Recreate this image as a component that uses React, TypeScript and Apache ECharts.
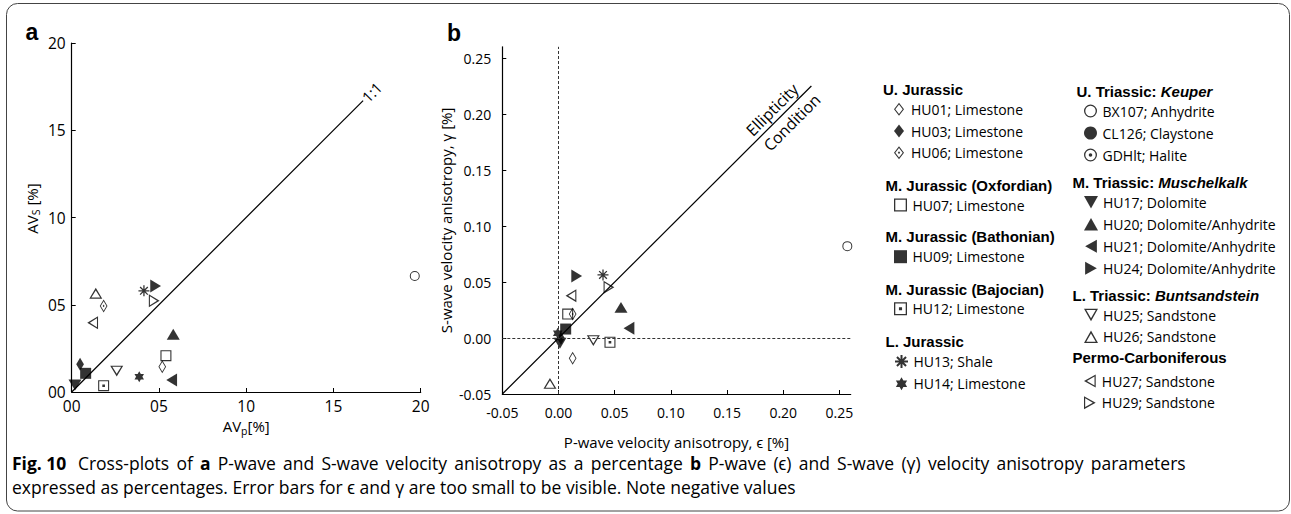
import React, { useEffect, useRef } from "react";
import * as echarts from "echarts";

// ---------- data ----------
const sampleNames = [
  "HU01; Limestone", "HU03; Limestone", "HU06; Limestone",
  "HU07; Limestone", "HU09; Limestone", "HU12; Limestone",
  "HU13; Shale", "HU14; Limestone",
  "BX107; Anhydrite", "CL126; Claystone", "GDHlt; Halite",
  "HU17; Dolomite", "HU20; Dolomite/Anhydrite", "HU21; Dolomite/Anhydrite", "HU24; Dolomite/Anhydrite",
  "HU25; Sandstone", "HU26; Sandstone",
  "HU27; Sandstone", "HU29; Sandstone",
];
// panel a: AVp, AVs
const avpValues = [5.19, 0.48, 1.83, 5.40, 0.80, 1.83, 4.14, 3.87, 19.66, null, null, 0.19, 5.82, 5.73, 4.81, 2.58, 1.38, 1.20, 4.73];
const avsValues = [1.45, 1.59, 4.93, 2.08, 1.07, 0.36, 5.80, 0.88, 6.65, null, null, 0.40, 3.31, 0.69, 6.07, 1.20, 5.66, 3.97, 5.23];
// panel b: epsilon, gamma
const epsValues = [0.0126, 0.0022, 0.0126, 0.0082, 0.0064, 0.0458, 0.0396, -0.0007, 0.257, null, null, 0.0013, 0.0556, 0.0627, 0.0162, 0.031, -0.0076, 0.0111, 0.0449];
const gammaValues = [-0.0181, -0.0003, 0.0214, 0.0214, 0.008, -0.0038, 0.0563, 0.0042, 0.082, null, null, -0.0047, 0.0274, 0.0087, 0.0554, -0.0024, -0.0405, 0.0378, 0.0453];

const tickLabelsA = ["00", "05", "10", "15", "20"];
const ticksB = [-0.05, 0.0, 0.05, 0.1, 0.15, 0.2, 0.25];
const oneToOneLine = [[0, 0], [16.7, 16.7]];
const ellipticityLine = [[-0.05, -0.05], [0.225, 0.225]];

const legendGroups = [
  { title: "U. Jurassic", members: ["HU01; Limestone", "HU03; Limestone", "HU06; Limestone"] },
  { title: "M. Jurassic (Oxfordian)", members: ["HU07; Limestone"] },
  { title: "M. Jurassic (Bathonian)", members: ["HU09; Limestone"] },
  { title: "M. Jurassic (Bajocian)", members: ["HU12; Limestone"] },
  { title: "L. Jurassic", members: ["HU13; Shale", "HU14; Limestone"] },
  { title: "U. Triassic: {i|Keuper}", members: ["BX107; Anhydrite", "CL126; Claystone", "GDHlt; Halite"] },
  { title: "M. Triassic: {i|Muschelkalk}", members: ["HU17; Dolomite", "HU20; Dolomite/Anhydrite", "HU21; Dolomite/Anhydrite", "HU24; Dolomite/Anhydrite"] },
  { title: "L. Triassic: {i|Buntsandstein}", members: ["HU25; Sandstone", "HU26; Sandstone"] },
  { title: "Permo-Carboniferous", members: ["HU27; Sandstone", "HU29; Sandstone"] },
];

const captionLine1 = [
  { t: "Fig. 10", b: true }, { t: "Cross-plots", b: false }, { t: "of", b: false }, { t: "a", b: true },
  { t: "P-wave", b: false }, { t: "and", b: false }, { t: "S-wave", b: false }, { t: "velocity", b: false },
  { t: "anisotropy", b: false }, { t: "as", b: false }, { t: "a", b: false }, { t: "percentage", b: false },
  { t: "b", b: true }, { t: "P-wave", b: false }, { t: "(ϵ)", b: false }, { t: "and", b: false },
  { t: "S-wave", b: false }, { t: "(γ)", b: false }, { t: "velocity", b: false }, { t: "anisotropy", b: false },
  { t: "parameters", b: false },
];
const captionLine2 = "expressed as percentages. Error bars for ϵ and γ are too small to be visible. Note negative values";

// ---------- styles / layout ----------
const legendLayout = [
  { hx: 883, hy: 89, lx: 894, ly: 102.3, gap: 7.7 },
  { hx: 885.5, hy: 185, lx: 894, ly: 198, gap: 7.7 },
  { hx: 885.5, hy: 236.7, lx: 894, ly: 249.7, gap: 7.7 },
  { hx: 885.5, hy: 289.3, lx: 894, ly: 301.7, gap: 7.7 },
  { hx: 885.5, hy: 341, lx: 894, ly: 354, gap: 7.7 },
  { hx: 1076.5, hy: 91, lx: 1084, ly: 104, gap: 8 },
  { hx: 1072.5, hy: 182.3, lx: 1084, ly: 195.3, gap: 8 },
  { hx: 1072.5, hy: 295, lx: 1084, ly: 308, gap: 7.7 },
  { hx: 1072.5, hy: 357.7, lx: 1084, ly: 374, gap: 7.7 },
];

const DIA_O = "M5,0L10,6.5L5,13L0,6.5Z M5,1.7L1.3,6.5L5,11.3L8.7,6.5Z";
const SQ_O = "M0,0L10,0L10,10L0,10Z M1,1L1,9L9,9L9,1Z";
const CI_O = "M0,5A5,5 0 0,1 10,5A5,5 0 0,1 0,5Z M1,5A4,4 0 0,0 9,5A4,4 0 0,0 1,5Z";
const symbols: Record<string, { s: string; size: number | number[]; stroke?: boolean }> = {
  "HU01; Limestone": { s: "path://" + DIA_O, size: [10, 13] },
  "HU03; Limestone": { s: "path://M5,0L10,6.5L5,13L0,6.5Z", size: [10, 13] },
  "HU06; Limestone": { s: "path://" + DIA_O + " M5,5.1L6.2,6.5L5,7.9L3.8,6.5Z", size: [10, 13] },
  "HU07; Limestone": { s: "path://" + SQ_O, size: 11 },
  "HU09; Limestone": { s: "path://M0,0L10,0L10,10L0,10Z", size: 11 },
  "HU12; Limestone": { s: "path://" + SQ_O + " M3.8,3.8L6.2,3.8L6.2,6.2L3.8,6.2Z", size: 11 },
  "HU13; Shale": { s: "path://M5,0L5,10M0,5L10,5M1.5,1.5L8.5,8.5M8.5,1.5L1.5,8.5", size: 11, stroke: true },
  "HU14; Limestone": { s: "path://M5,0L9.33,7.5L0.67,7.5Z M5,10L0.67,2.5L9.33,2.5Z", size: 11 },
  "BX107; Anhydrite": { s: "path://" + CI_O, size: 10 },
  "CL126; Claystone": { s: "circle", size: 10 },
  "GDHlt; Halite": { s: "path://" + CI_O + " M3.6,5A1.4,1.4 0 0,1 6.4,5A1.4,1.4 0 0,1 3.6,5Z", size: 10 },
  "HU17; Dolomite": { s: "path://M0,0L10,0L5,9Z", size: [13, 12] },
  "HU20; Dolomite/Anhydrite": { s: "path://M5,0L10,9L0,9Z", size: [13, 12] },
  "HU21; Dolomite/Anhydrite": { s: "path://M9,0L9,10L0,5Z", size: [12, 13] },
  "HU24; Dolomite/Anhydrite": { s: "path://M0,0L9,5L0,10Z", size: [12, 13] },
  "HU25; Sandstone": { s: "path://M0,0L10,0L5,9Z M1.6,0.9L5,6.8L8.4,0.9Z", size: [13, 12] },
  "HU26; Sandstone": { s: "path://M5,0L10,9L0,9Z M5,2.2L1.6,8.1L8.4,8.1Z", size: [13, 12] },
  "HU27; Sandstone": { s: "path://M9,0L9,10L0,5Z M8.1,1.6L2.2,5L8.1,8.4Z", size: [12, 13] },
  "HU29; Sandstone": { s: "path://M0,0L9,5L0,10Z M0.9,1.6L0.9,8.4L6.8,5Z", size: [12, 13] },
};

const FONT = "'Open Sans', sans-serif";
const HEAD_FONT = "'Liberation Sans', Arial, sans-serif";
const CAP_SIZE = 17.5;
const CAP_LEFT = 12;
const CAP_RIGHT = 1185;

function axisBase(fontSize: number, margin: number) {
  return {
    type: "value" as const,
    axisLine: { show: true, onZero: false, lineStyle: { color: "#000", width: 1.2 } },
    axisTick: { show: true, inside: true, length: 4, lineStyle: { color: "#000", width: 1 } },
    splitLine: { show: false },
    axisLabel: { color: "#000", fontFamily: FONT, fontSize, margin },
    nameLocation: "middle" as const,
  };
}

function buildOption() {
  const series: any[] = [];
  series.push({
    type: "line", xAxisIndex: 0, yAxisIndex: 0, data: oneToOneLine, symbol: "none", silent: true,
    lineStyle: { color: "#000", width: 1.2 }, z: 1,
  });
  series.push({
    type: "line", xAxisIndex: 1, yAxisIndex: 1, data: ellipticityLine, symbol: "none", silent: true,
    lineStyle: { color: "#000", width: 1.2 }, z: 1,
    markLine: {
      silent: true, symbol: "none", label: { show: false },
      lineStyle: { color: "#333", width: 1, type: [3, 2] },
      data: [{ xAxis: 0 }, { yAxis: 0 }],
    },
  });
  sampleNames.forEach((name, i) => {
    const sym = symbols[name];
    const common = {
      type: "scatter", name, symbol: sym.s, symbolSize: sym.size, symbolKeepAspect: true,
      itemStyle: sym.stroke
        ? { color: "#000", borderColor: "#000", borderWidth: 1.3 }
        : { color: "#000", borderWidth: 0 },
      emphasis: { disabled: true }, z: 3,
    };
    series.push({ ...common, xAxisIndex: 0, yAxisIndex: 0, data: avpValues[i] == null ? [] : [[avpValues[i], avsValues[i]]] });
    series.push({ ...common, xAxisIndex: 1, yAxisIndex: 1, data: epsValues[i] == null ? [] : [[epsValues[i], gammaValues[i]]] });
  });

  const legends = legendGroups.map((g, k) => ({
    data: g.members, orient: "vertical", left: legendLayout[k].lx, top: legendLayout[k].ly,
    itemGap: legendLayout[k].gap, itemWidth: 14, itemHeight: 13, padding: 0, selectedMode: false,
    textStyle: { fontFamily: FONT, fontSize: 14, color: "#000" },
  }));

  const nameRich = (size: number) => ({
    t: { fontFamily: FONT, fontSize: size, color: "#000" },
    s: { fontFamily: FONT, fontSize: size * 0.7, color: "#000", padding: [size * 0.55, 0, 0, 0] },
  });

  return {
    animation: false,
    backgroundColor: "#fff",
    grid: [
      { left: 71.7, top: 43, width: 349, height: 349 },
      { left: 502.3, top: 46.8, width: 348.4, height: 347.2 },
    ],
    xAxis: [
      { ...axisBase(15.5, 6), gridIndex: 0, min: 0, max: 20, interval: 5,
        axisLabel: { ...axisBase(15.5, 6).axisLabel, formatter: (_v: number, i: number) => tickLabelsA[i] },
        name: "{t|AV}{s|p}{t|[%]}", nameGap: 22, nameTextStyle: { rich: nameRich(15) } },
      { ...axisBase(14, 11), gridIndex: 1, min: -0.05, max: 0.26,
        axisTick: { ...axisBase(14, 11).axisTick, customValues: ticksB },
        axisLabel: { ...axisBase(14, 11).axisLabel, customValues: ticksB, formatter: (v: number) => v.toFixed(2) },
        name: "P-wave velocity anisotropy, ϵ [%]", nameGap: 40,
        nameTextStyle: { fontFamily: FONT, fontSize: 15, color: "#000" } },
    ],
    yAxis: [
      { ...axisBase(15.5, 6), gridIndex: 0, min: 0, max: 20, interval: 5,
        axisLabel: { ...axisBase(15.5, 6).axisLabel, formatter: (_v: number, i: number) => tickLabelsA[i] },
        name: "{t|AV}{s|S}{t| [%]}", nameGap: 30, nameTextStyle: { rich: nameRich(15), padding: [0, 0, 0, 18] } },
      { ...axisBase(14, 11), gridIndex: 1, min: -0.05, max: 0.26,
        axisTick: { ...axisBase(14, 11).axisTick, customValues: ticksB },
        axisLabel: { ...axisBase(14, 11).axisLabel, customValues: ticksB, formatter: (v: number) => v.toFixed(2) },
        name: "S-wave velocity anisotropy, γ [%]", nameGap: 49,
        nameTextStyle: { fontFamily: FONT, fontSize: 15, color: "#000" } },
    ],
    legend: legends,
    series,
  };
}

function justifiedCaption() {
  const ctx = document.createElement("canvas").getContext("2d")!;
  let total = 0;
  captionLine1.forEach((w) => {
    ctx.font = `${w.b ? "bold " : ""}${CAP_SIZE}px 'Open Sans'`;
    total += ctx.measureText(w.t).width;
  });
  const gaps = captionLine1.length - 1 + 0.6; // first gap is wider
  const gw = Math.max(4, (CAP_RIGHT - CAP_LEFT - total) / gaps);
  let text = "";
  captionLine1.forEach((w, k) => {
    if (k > 0) text += k === 1 ? "{sp2| }" : "{sp| }";
    text += `{${w.b ? "b" : "n"}|${w.t}}`;
  });
  return {
    text,
    rich: {
      n: { fontFamily: FONT, fontSize: CAP_SIZE, fill: "#000" },
      b: { fontFamily: FONT, fontSize: CAP_SIZE, fontWeight: "bold", fill: "#000" },
      sp: { fontFamily: FONT, fontSize: CAP_SIZE, width: gw },
      sp2: { fontFamily: FONT, fontSize: CAP_SIZE, width: gw * 1.6 },
    },
  };
}

export default function App() {
  const ref = useRef<HTMLDivElement>(null);
  useEffect(() => {
    const chart = echarts.init(ref.current!, null, { renderer: "svg" });
    chart.setOption(buildOption() as any);

    const end11 = chart.convertToPixel({ gridIndex: 0 }, oneToOneLine[1]) as number[];
    const eA = chart.convertToPixel({ gridIndex: 1 }, [0.197, 0.197]) as number[];
    const eB = chart.convertToPixel({ gridIndex: 1 }, [0.2, 0.2]) as number[];
    const d = Math.SQRT1_2;
    const rot = Math.PI / 4;

    const headers = legendGroups.map((g, k) => ({
      type: "text", x: legendLayout[k].hx, y: legendLayout[k].hy,
      style: {
        text: g.title, font: `bold 15px ${HEAD_FONT}`, fill: "#000", verticalAlign: "middle", align: "left",
        rich: { i: { fontStyle: "italic", fontWeight: "bold", fontSize: 15, fontFamily: HEAD_FONT } },
      },
    }));
    const cap = justifiedCaption();

    chart.setOption({
      graphic: [
        { type: "rect", shape: { x: 6.5, y: 3.5, width: 1283, height: 507.5, r: 11 }, style: { fill: "none", stroke: "#444", lineWidth: 1 }, silent: true },
        { type: "text", x: 32, y: 32, style: { text: "a", font: `bold 23px ${HEAD_FONT}`, fill: "#000", align: "center", verticalAlign: "middle" } },
        { type: "text", x: 454, y: 33, style: { text: "b", font: `bold 23px ${HEAD_FONT}`, fill: "#000", align: "center", verticalAlign: "middle" } },
        { type: "text", x: end11[0] + 12 * d, y: end11[1] - 12 * d, rotation: rot,
          style: { text: "1:1", font: `15px ${FONT}`, fill: "#000", align: "center", verticalAlign: "middle" } },
        { type: "text", x: eA[0] - 11 * d, y: eA[1] - 11 * d, rotation: rot,
          style: { text: "Ellipticity", font: `16px ${FONT}`, fill: "#000", align: "center", verticalAlign: "middle" } },
        { type: "text", x: eB[0] + 12 * d, y: eB[1] + 12 * d, rotation: rot,
          style: { text: "Condition", font: `16px ${FONT}`, fill: "#000", align: "center", verticalAlign: "middle" } },
        ...headers,
        { type: "text", x: CAP_LEFT, y: 463,
          style: { text: cap.text, font: `${CAP_SIZE}px ${FONT}`, fill: "#000", verticalAlign: "middle", rich: cap.rich } },
        { type: "text", x: CAP_LEFT, y: 487,
          style: { text: captionLine2, font: `${CAP_SIZE}px ${FONT}`, fill: "#000", verticalAlign: "middle" } },
      ],
    });
    return () => chart.dispose();
  }, []);
  return <div ref={ref} style={{ position: "fixed", left: 0, top: 0, width: 1291, height: 514, background: "#fff" }} />;
}
